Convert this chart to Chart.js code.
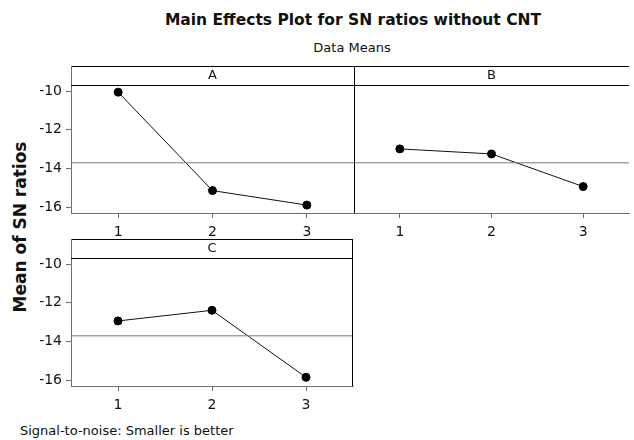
<!DOCTYPE html>
<html lang="en">
<head>
<meta charset="UTF-8">
<title>Main Effects Plot for SN ratios without CNT</title>
<script src="https://cdn.jsdelivr.net/npm/chart.js@4/dist/chart.umd.min.js"></script>
<style>
  * { box-sizing: border-box; margin: 0; padding: 0; }
  body { width: 634px; height: 440px; background: #fff; position: relative; overflow: hidden; font-family: "DejaVu Sans", Verdana, sans-serif; color: #111; }
  .abs { position: absolute; }
  #title { left: 0; width: 706px; top: 11px; text-align: center; font-weight: bold; font-size: 15.5px; }
  #subtitle { left: 0; width: 704px; top: 40px; text-align: center; font-size: 13px; }
  #ylabel { left: 20px; top: 227px; font-weight: bold; font-size: 17px; transform: translate(-50%, -50%) rotate(-90deg); white-space: nowrap; }
  #footer { left: 20px; top: 423px; font-size: 13px; }
  canvas { position: absolute; }
</style>
</head>
<body>
<div id="title" class="abs">Main Effects Plot for SN ratios without CNT</div>
<div id="subtitle" class="abs">Data Means</div>
<div id="ylabel" class="abs">Mean of SN ratios</div>
<div id="footer" class="abs">Signal-to-noise: Smaller is better</div>

<canvas id="panel-a" style="left:0;top:56px" width="362" height="190"></canvas>
<canvas id="panel-b" style="left:348px;top:56px" width="286" height="190"></canvas>
<canvas id="panel-c" style="left:0;top:228px" width="362" height="190"></canvas>

<script>
const LEVELS = [1, 2, 3];
const FACTOR_A = [-10.05, -15.15, -15.9];
const FACTOR_B = [-12.99, -13.25, -14.94];
const FACTOR_C = [-12.94, -12.39, -15.86];
const GRAND_MEAN = -13.71;
const Y_TICKS = [-16, -14, -12, -10];
const X_TICKS = [1, 2, 3];

const AXIS_GREY = '#6e6e6e';
const FONT = '"DejaVu Sans", Verdana, sans-serif';

// header strip + outline for each panel
const panelFrame = {
  id: 'panelFrame',
  afterDraw(chart, _args, opts) {
    const { ctx, chartArea: a } = chart;
    const top = a.top - 19;
    ctx.save();
    ctx.strokeStyle = '#000';
    ctx.lineWidth = 1;
    ctx.beginPath();
    ctx.moveTo(a.left, top + 0.5); ctx.lineTo(a.right, top + 0.5);
    ctx.moveTo(a.left, a.top + 0.5); ctx.lineTo(a.right, a.top + 0.5);
    if (opts.right) { ctx.moveTo(a.right - 0.5, top); ctx.lineTo(a.right - 0.5, a.bottom); }
    if (opts.leftDark) { ctx.moveTo(a.left + 0.5, top); ctx.lineTo(a.left + 0.5, a.bottom); }
    ctx.stroke();
    if (!opts.leftDark) {
      ctx.strokeStyle = AXIS_GREY;
      ctx.beginPath();
      ctx.moveTo(a.left + 0.5, top); ctx.lineTo(a.left + 0.5, a.top);
      ctx.stroke();
    }
    ctx.fillStyle = '#111';
    ctx.font = '13px ' + FONT;
    ctx.textAlign = 'center';
    ctx.textBaseline = 'middle';
    ctx.fillText(opts.label, (a.left + a.right) / 2, top + 10);
    ctx.restore();
  }
};

function makePanel(id, label, values, o) {
  new Chart(document.getElementById(id), {
    type: 'line',
    data: {
      datasets: [
        {
          data: [{ x: 0.5, y: GRAND_MEAN }, { x: 3.5, y: GRAND_MEAN }],
          borderColor: '#7a7a7a', borderWidth: 1, pointRadius: 0
        },
        {
          data: LEVELS.map((l, i) => ({ x: l, y: values[i] })),
          borderColor: '#111', borderWidth: 1,
          pointRadius: 4, pointBackgroundColor: '#000', pointBorderColor: '#000'
        }
      ]
    },
    options: {
      responsive: false,
      animation: false,
      events: [],
      layout: { padding: o.padding },
      plugins: { legend: { display: false }, tooltip: { enabled: false }, panelFrame: { label, right: o.right, leftDark: o.leftDark } },
      scales: {
        x: {
          type: 'linear', min: 0.5, max: 3.5,
          afterBuildTicks: s => { s.ticks = X_TICKS.map(v => ({ value: v })); },
          afterFit: s => { s.height = o.xHeight; },
          ticks: { color: '#111', font: { size: 14, family: FONT }, padding: 6 },
          grid: { drawOnChartArea: false, color: AXIS_GREY, tickLength: 5 },
          border: { color: AXIS_GREY }
        },
        y: {
          display: o.yAxis ? true : false,
          min: -16.31, max: -9.68,
          afterBuildTicks: s => { s.ticks = Y_TICKS.map(v => ({ value: v })); },
          afterFit: s => { s.width = o.yWidth; },
          ticks: { color: '#111', font: { size: 14, family: FONT }, padding: 4 },
          grid: { drawOnChartArea: false, color: AXIS_GREY, tickLength: 5 },
          border: { color: o.leftDark ? '#000' : AXIS_GREY }
        }
      }
    },
    plugins: [panelFrame]
  });
}

makePanel('panel-a', 'A', FACTOR_A, { padding: { top: 29, right: 8, left: 0, bottom: 0 }, xHeight: 33, yWidth: 71, yAxis: true, right: false });
makePanel('panel-b', 'B', FACTOR_B, { padding: { top: 29, right: 0, left: 6, bottom: 0 }, xHeight: 33, yWidth: 0, yAxis: false, leftDark: true });
makePanel('panel-c', 'C', FACTOR_C, { padding: { top: 30, right: 9, left: 0, bottom: 0 }, xHeight: 32, yWidth: 71, yAxis: true, right: true });
</script>
</body>
</html>
